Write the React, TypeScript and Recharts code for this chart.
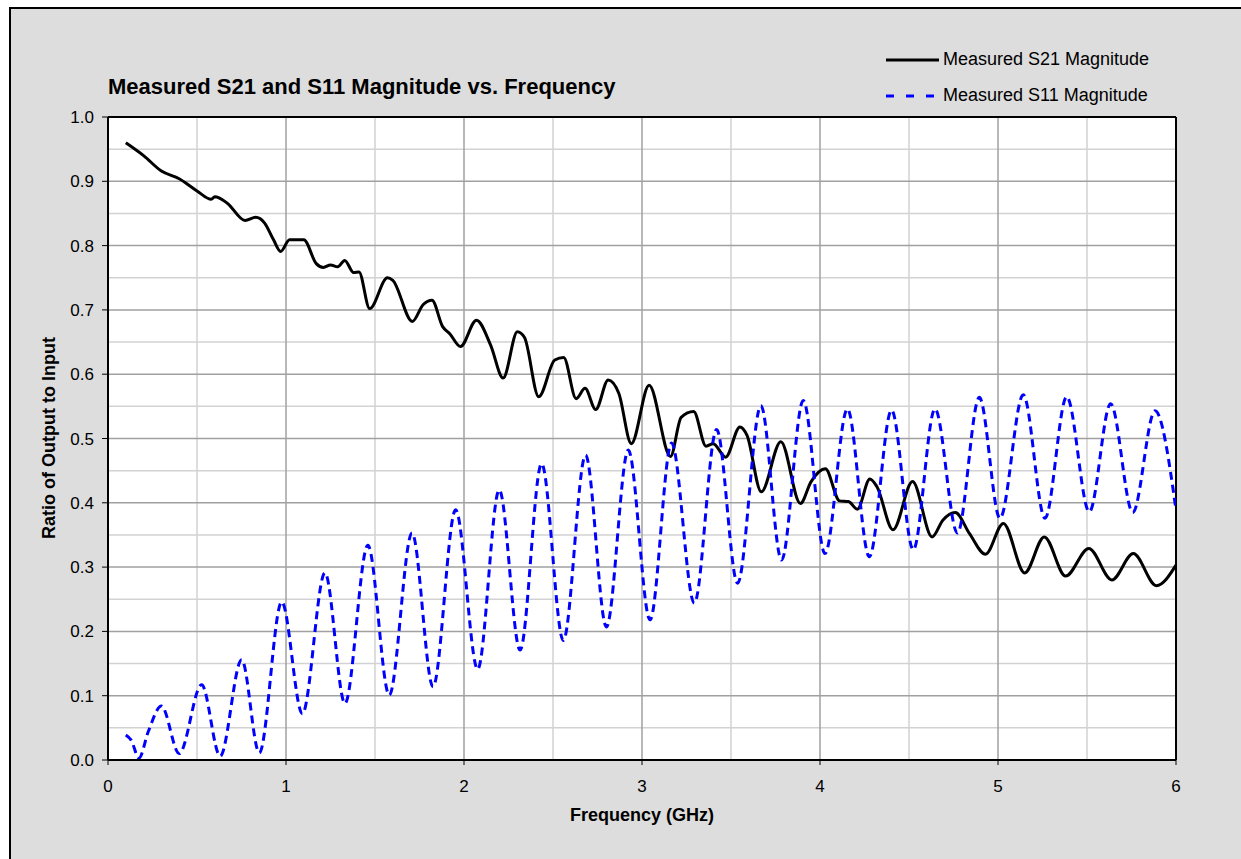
import { LineChart, Line, XAxis, YAxis, CartesianGrid, ReferenceLine } from "recharts";

const s21Freq = [
  0.1, 0.2, 0.3, 0.4, 0.5, 0.58, 0.6, 0.67, 0.77, 0.83, 0.88, 0.93, 0.97, 1.02, 1.1, 1.17, 1.21, 1.25, 1.29,
  1.33, 1.38, 1.41, 1.47, 1.57, 1.6, 1.71, 1.77, 1.82, 1.88, 1.92, 1.98, 2.07, 2.15, 2.22, 2.3, 2.34, 2.42,
  2.51, 2.56, 2.63, 2.68, 2.74, 2.81, 2.87, 2.94, 3.04, 3.16, 3.22, 3.29, 3.36, 3.4, 3.47, 3.55, 3.59, 3.67,
  3.78, 3.89, 3.95, 4.03, 4.11, 4.16, 4.21, 4.28, 4.32, 4.41, 4.52, 4.63, 4.69, 4.76, 4.84, 4.93, 5.03, 5.15,
  5.26, 5.38, 5.51, 5.64, 5.76, 5.89, 6.0,
];
const s21Mag = [
  0.96, 0.94, 0.916, 0.904, 0.885, 0.872, 0.876, 0.866, 0.839, 0.844, 0.835, 0.809, 0.791, 0.809, 0.809, 0.772,
  0.766, 0.77, 0.767, 0.777, 0.758, 0.759, 0.702, 0.75, 0.746, 0.682, 0.708, 0.715, 0.674, 0.663, 0.643, 0.684,
  0.645, 0.594, 0.666, 0.657, 0.565, 0.622, 0.626, 0.562, 0.578, 0.545, 0.591, 0.57, 0.492, 0.583, 0.472, 0.533,
  0.542, 0.488, 0.492, 0.471, 0.518, 0.505, 0.417, 0.495, 0.399, 0.433, 0.453, 0.403, 0.402, 0.39, 0.437, 0.425,
  0.358, 0.433, 0.347, 0.373, 0.385, 0.352, 0.32, 0.368, 0.291, 0.347, 0.286, 0.329, 0.28, 0.321, 0.271, 0.303,
];

const s11Freq = [
  0.1, 0.13, 0.174, 0.226, 0.3, 0.4, 0.526, 0.63, 0.751, 0.85, 0.976, 1.092, 1.219, 1.331, 1.46, 1.58, 1.708,
  1.826, 1.953, 2.077, 2.198, 2.315, 2.436, 2.558, 2.683, 2.8, 2.923, 3.045, 3.166, 3.294, 3.419, 3.537, 3.668,
  3.784, 3.906, 4.028, 4.154, 4.277, 4.402, 4.524, 4.646, 4.772, 4.895, 5.011, 5.142, 5.264, 5.386, 5.513,
  5.633, 5.757, 5.882, 6.0,
];
const s11Mag = [
  0.039, 0.031, 0.003, 0.044, 0.084, 0.01, 0.117, 0.006, 0.156, 0.011, 0.246, 0.072, 0.291, 0.088, 0.334, 0.101,
  0.353, 0.114, 0.389, 0.141, 0.42, 0.171, 0.461, 0.186, 0.474, 0.207, 0.482, 0.218, 0.493, 0.244, 0.514, 0.275,
  0.551, 0.311, 0.559, 0.321, 0.546, 0.316, 0.544, 0.327, 0.546, 0.353, 0.564, 0.376, 0.568, 0.376, 0.565, 0.386,
  0.554, 0.385, 0.543, 0.389,
];

const xTicks = [0, 1, 2, 3, 4, 5, 6];
const yTicks = [0, 0.1, 0.2, 0.3, 0.4, 0.5, 0.6, 0.7, 0.8, 0.9, 1.0];
const xMinor = [0.5, 1.5, 2.5, 3.5, 4.5, 5.5];
const yMinor = [0.05, 0.15, 0.25, 0.35, 0.45, 0.55, 0.65, 0.75, 0.85, 0.95];
const xMajor = [1, 2, 3, 4, 5];
const yMajor = [0.1, 0.2, 0.3, 0.4, 0.5, 0.6, 0.7, 0.8, 0.9];

const s21 = s21Freq.map((f, i) => ({ f, v: s21Mag[i] }));
const s11 = s11Freq.map((f, i) => ({ f, v: s11Mag[i] }));

const font = "'Liberation Sans', Arial, sans-serif";
const tick = { fontSize: 17, fill: "#000", fontFamily: font };

export default function App() {
  return (
    <div style={{ position: "fixed", left: 0, top: 0, width: 1241, height: 859, overflow: "hidden", background: "#fff", fontFamily: font }}>
      <div style={{ position: "absolute", left: 9, top: 7, width: 1300, height: 1000, background: "#dddddd", border: "2px solid #000" }} />
      <div style={{ position: "absolute", left: 0, top: 0 }}>
        <LineChart width={1241} height={859} margin={{ top: 117, right: 65, left: 48, bottom: 69 }}>
          <CartesianGrid fill="#fff" stroke="#d2d2d2" strokeWidth={1.5} horizontalValues={yMinor} verticalValues={xMinor} />
          <CartesianGrid stroke="#a0a0a0" strokeWidth={1.5} horizontalValues={yMajor} verticalValues={xMajor} />
          <XAxis
            type="number"
            dataKey="f"
            domain={[0, 6]}
            ticks={xTicks}
            allowDataOverflow
            height={30}
            tick={tick}
            tickSize={5}
            tickMargin={15}
            axisLine={{ stroke: "#000", strokeWidth: 2 }}
            tickLine={{ stroke: "#000" }}
          />
          <YAxis
            type="number"
            dataKey="v"
            domain={[0, 1]}
            ticks={yTicks}
            width={60}
            tick={tick}
            tickFormatter={(v: number) => v.toFixed(1)}
            tickSize={6}
            tickMargin={8}
            axisLine={{ stroke: "#000", strokeWidth: 2 }}
            tickLine={{ stroke: "#000" }}
          />
          <ReferenceLine y={1} stroke="#000" strokeWidth={2} />
          <ReferenceLine x={6} stroke="#000" strokeWidth={2} />
          <Line data={s21} dataKey="v" type="monotone" stroke="#000" strokeWidth={3} dot={false} isAnimationActive={false} />
          <Line data={s11} dataKey="v" type="monotone" stroke="#0000ff" strokeWidth={3} strokeDasharray="8 5" dot={false} isAnimationActive={false} />
        </LineChart>
      </div>
      <div style={{ position: "absolute", left: 108, top: 74, fontSize: 22, fontWeight: "bold", whiteSpace: "nowrap" }}>
        Measured S21 and S11 Magnitude vs. Frequency
      </div>
      <svg style={{ position: "absolute", left: 880, top: 48 }} width={60} height={60}>
        <line x1={6} y1={12} x2={59} y2={12} stroke="#000" strokeWidth={3} />
        <line x1={6} y1={48} x2={56} y2={48} stroke="#0000ff" strokeWidth={3} strokeDasharray="8 12" />
      </svg>
      <div style={{ position: "absolute", left: 943, top: 49, fontSize: 18, whiteSpace: "nowrap" }}>Measured S21 Magnitude</div>
      <div style={{ position: "absolute", left: 943, top: 85, fontSize: 18, whiteSpace: "nowrap" }}>Measured S11 Magnitude</div>
      <div style={{ position: "absolute", left: 570, top: 805, fontSize: 18, fontWeight: "bold", whiteSpace: "nowrap" }}>Frequency (GHz)</div>
      <div
        style={{
          position: "absolute",
          left: 49,
          top: 438,
          fontSize: 18,
          fontWeight: "bold",
          whiteSpace: "nowrap",
          transform: "translate(-50%, -50%) rotate(-90deg)",
        }}
      >
        Ratio of Output to Input
      </div>
    </div>
  );
}
